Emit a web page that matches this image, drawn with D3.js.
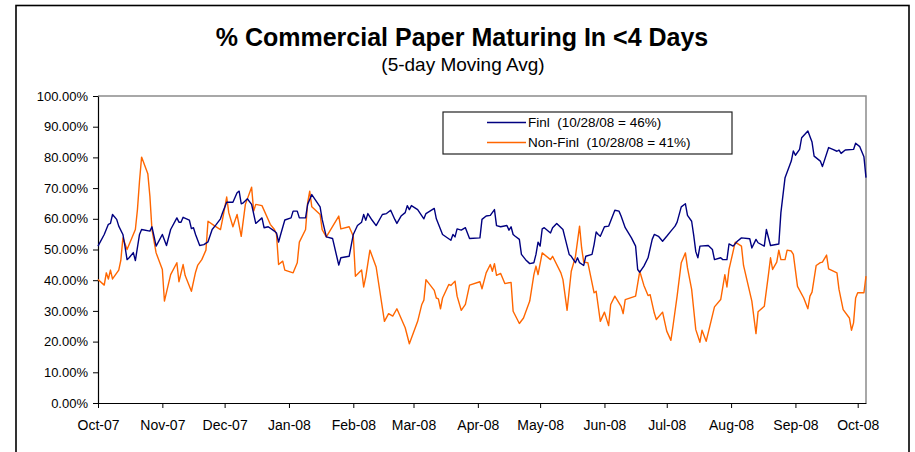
<!DOCTYPE html>
<html>
<head>
<meta charset="utf-8">
<script src="https://cdn.jsdelivr.net/npm/d3@7"></script>
<style>
  body { margin: 0; background: #fff; }
  text { font-family: "Liberation Sans", Arial, sans-serif; fill: #000; }
</style>
</head>
<body>
<div id="chart"></div>
<script>
// Month tick labels on the date axis
const monthLabels = ['Oct-07', 'Nov-07', 'Dec-07', 'Jan-08', 'Feb-08', 'Mar-08', 'Apr-08',
  'May-08', 'Jun-08', 'Jul-08', 'Aug-08', 'Sep-08', 'Oct-08'];

const seriesNames = ['Finl  (10/28/08 = 46%)', 'Non-Finl  (10/28/08 = 41%)'];

// Finl: % of CP maturing in <4 days, 5-day moving avg
const finlDates = ['10/01/07', '10/04/07', '10/06/07', '10/07/07', '10/08/07', '10/10/07', '10/11/07',
  '10/13/07', '10/14/07', '10/15/07', '10/16/07', '10/18/07', '10/19/07', '10/21/07', '10/22/07',
  '10/26/07', '10/27/07', '10/28/07', '10/29/07', '11/01/07', '11/03/07', '11/05/07', '11/08/07',
  '11/09/07', '11/10/07', '11/11/07', '11/14/07', '11/15/07', '11/16/07', '11/17/07', '11/19/07',
  '11/21/07', '11/23/07', '11/25/07', '11/27/07', '11/29/07', '11/30/07', '12/02/07', '12/05/07',
  '12/07/07', '12/08/07', '12/09/07', '12/10/07', '12/12/07', '12/14/07', '12/16/07', '12/19/07',
  '12/20/07', '12/22/07', '12/25/07', '12/26/07', '12/27/07', '12/28/07', '12/30/07', '01/02/08',
  '01/03/08', '01/05/08', '01/06/08', '01/09/08', '01/10/08', '01/12/08', '01/16/08', '01/17/08',
  '01/19/08', '01/22/08', '01/24/08', '01/25/08', '01/26/08', '01/30/08', '02/01/08', '02/03/08',
  '02/05/08', '02/06/08', '02/07/08', '02/08/08', '02/10/08', '02/12/08', '02/15/08', '02/17/08',
  '02/19/08', '02/21/08', '02/22/08', '02/24/08', '02/26/08', '02/27/08', '02/28/08', '02/29/08',
  '03/03/08', '03/06/08', '03/07/08', '03/11/08', '03/12/08', '03/15/08', '03/19/08', '03/20/08',
  '03/21/08', '03/22/08', '03/24/08', '03/26/08', '03/28/08', '04/02/08', '04/03/08', '04/05/08',
  '04/07/08', '04/09/08', '04/10/08', '04/12/08', '04/15/08', '04/16/08', '04/17/08', '04/18/08',
  '04/19/08', '04/21/08', '04/22/08', '04/24/08', '04/26/08', '04/28/08', '04/29/08', '04/30/08',
  '05/01/08', '05/02/08', '05/03/08', '05/06/08', '05/07/08', '05/09/08', '05/12/08', '05/13/08',
  '05/15/08', '05/16/08', '05/18/08', '05/19/08', '05/20/08', '05/22/08', '05/23/08', '05/26/08',
  '05/27/08', '05/28/08', '05/29/08', '05/30/08', '06/01/08', '06/03/08', '06/06/08', '06/08/08',
  '06/09/08', '06/11/08', '06/14/08', '06/16/08', '06/17/08', '06/18/08', '06/20/08', '06/22/08',
  '06/24/08', '06/25/08', '06/27/08', '06/29/08', '07/01/08', '07/03/08', '07/05/08', '07/06/08',
  '07/08/08', '07/10/08', '07/11/08', '07/13/08', '07/14/08', '07/15/08', '07/16/08', '07/17/08',
  '07/21/08', '07/23/08', '07/24/08', '07/27/08', '07/28/08', '07/30/08', '07/31/08', '08/02/08',
  '08/04/08', '08/06/08', '08/10/08', '08/11/08', '08/13/08', '08/14/08', '08/17/08', '08/18/08',
  '08/20/08', '08/24/08', '08/25/08', '08/27/08', '08/30/08', '08/31/08', '09/01/08', '09/03/08',
  '09/04/08', '09/07/08', '09/09/08', '09/10/08', '09/13/08', '09/14/08', '09/17/08', '09/19/08',
  '09/21/08', '09/22/08', '09/23/08', '09/25/08', '09/29/08', '09/30/08', '10/02/08', '10/04/08',
  '10/05/08'];
const finlValues = [51.1, 54.9, 58.2, 58.5, 61.4, 59.8, 57.6,
  54.9, 51.0, 46.7, 47.3, 49.0, 46.4, 54.9, 56.5,
  56.0, 57.4, 54.3, 51.1, 54.9, 51.3, 56.5, 60.3,
  58.9, 58.9, 60.5, 59.6, 56.8, 57.1, 54.9, 51.3,
  51.6, 52.5, 56.5, 58.2, 60.0, 62.0, 65.4, 65.4,
  68.5, 69.0, 64.9, 65.2, 66.5, 64.7, 58.5, 60.3,
  57.1, 57.4, 56.0, 55.4, 52.4, 54.9, 59.6, 60.3,
  62.5, 62.5, 60.3, 60.3, 64.7, 67.9, 63.9, 59.8,
  54.1, 53.6, 47.8, 44.9, 47.3, 47.8, 54.9, 57.8,
  58.9, 61.4, 59.5, 61.7, 59.6, 57.8, 61.4, 61.7,
  62.8, 59.8, 58.5, 60.9, 62.0, 64.3, 63.0, 64.3,
  63.0, 60.0, 61.7, 63.4, 60.0, 54.9, 53.0, 54.9,
  54.1, 56.7, 56.3, 57.1, 53.6, 53.8, 59.8, 60.9,
  61.1, 63.0, 57.8, 57.4, 57.8, 56.3, 57.4, 54.9,
  54.3, 53.3, 48.4, 46.7, 45.4, 45.7, 48.4, 52.4,
  51.1, 56.7, 57.1, 55.4, 57.1, 58.5, 56.5, 53.8,
  48.4, 47.8, 45.7, 47.3, 45.7, 44.8, 47.8, 48.4,
  51.6, 55.7, 54.9, 54.3, 57.4, 57.6, 62.8, 62.5,
  60.9, 57.1, 53.8, 51.1, 43.5, 42.6, 44.6, 47.3,
  53.3, 54.9, 54.3, 52.7, 54.3, 56.0, 57.6, 58.9,
  63.9, 64.9, 61.1, 59.2, 54.6, 49.3, 47.3, 51.1,
  51.3, 50.0, 46.7, 47.3, 46.7, 46.7, 51.8, 51.1,
  52.7, 53.8, 53.5, 50.5, 53.3, 52.2, 51.1, 56.5,
  51.3, 51.8, 62.0, 73.4, 78.8, 82.1, 80.7, 82.6,
  86.4, 88.6, 85.0, 80.4, 78.8, 77.0, 83.2, 82.6,
  82.0, 82.4, 81.3, 82.4, 82.6, 84.6, 83.5, 80.2,
  73.4];

// Non-Finl: % of CP maturing in <4 days, 5-day moving avg
const nonFinlDates = ['10/01/07', '10/04/07', '10/05/07', '10/06/07', '10/07/07', '10/08/07', '10/11/07',
  '10/12/07', '10/13/07', '10/15/07', '10/19/07', '10/20/07', '10/21/07', '10/22/07', '10/25/07',
  '10/26/07', '10/27/07', '10/29/07', '11/01/07', '11/02/07', '11/05/07', '11/08/07', '11/09/07',
  '11/11/07', '11/12/07', '11/15/07', '11/17/07', '11/18/07', '11/20/07', '11/22/07', '11/23/07',
  '11/26/07', '11/29/07', '11/30/07', '12/02/07', '12/03/07', '12/05/07', '12/07/07', '12/09/07',
  '12/11/07', '12/14/07', '12/15/07', '12/16/07', '12/19/07', '12/23/07', '12/25/07', '12/26/07',
  '12/27/07', '12/29/07', '12/30/07', '01/03/08', '01/05/08', '01/06/08', '01/09/08', '01/10/08',
  '01/11/08', '01/12/08', '01/16/08', '01/17/08', '01/19/08', '01/25/08', '01/26/08', '01/30/08',
  '02/01/08', '02/02/08', '02/05/08', '02/06/08', '02/07/08', '02/09/08', '02/12/08', '02/16/08',
  '02/18/08', '02/20/08', '02/22/08', '02/26/08', '02/28/08', '03/03/08', '03/05/08', '03/06/08',
  '03/07/08', '03/11/08', '03/12/08', '03/13/08', '03/14/08', '03/15/08', '03/18/08', '03/19/08',
  '03/21/08', '03/22/08', '03/24/08', '03/26/08', '03/28/08', '04/02/08', '04/03/08', '04/05/08',
  '04/07/08', '04/08/08', '04/09/08', '04/10/08', '04/12/08', '04/14/08', '04/17/08', '04/18/08',
  '04/21/08', '04/23/08', '04/26/08', '04/28/08', '04/29/08', '04/30/08', '05/02/08', '05/06/08',
  '05/07/08', '05/11/08', '05/12/08', '05/14/08', '05/16/08', '05/18/08', '05/20/08', '05/21/08',
  '05/22/08', '05/24/08', '05/27/08', '05/28/08', '05/30/08', '06/01/08', '06/03/08', '06/04/08',
  '06/06/08', '06/09/08', '06/10/08', '06/11/08', '06/16/08', '06/18/08', '06/20/08', '06/22/08',
  '06/23/08', '06/25/08', '06/26/08', '06/29/08', '07/01/08', '07/03/08', '07/04/08', '07/06/08',
  '07/08/08', '07/10/08', '07/11/08', '07/13/08', '07/15/08', '07/17/08', '07/18/08', '07/20/08',
  '07/24/08', '07/27/08', '07/29/08', '07/30/08', '07/31/08', '08/03/08', '08/06/08', '08/07/08',
  '08/11/08', '08/13/08', '08/14/08', '08/17/08', '08/19/08', '08/20/08', '08/21/08', '08/23/08',
  '08/24/08', '08/25/08', '08/27/08', '08/28/08', '08/30/08', '08/31/08', '09/02/08', '09/05/08',
  '09/07/08', '09/08/08', '09/09/08', '09/11/08', '09/13/08', '09/14/08', '09/16/08', '09/17/08',
  '09/21/08', '09/22/08', '09/24/08', '09/27/08', '09/28/08', '09/29/08', '09/30/08', '10/01/08',
  '10/04/08', '10/05/08'];
const nonFinlValues = [40.2, 38.4, 42.4, 40.4, 43.3, 40.4, 43.3,
  46.5, 53.8, 50.0, 56.5, 63.0, 72.3, 80.1, 74.7,
  67.4, 56.5, 48.9, 43.5, 33.2, 41.8, 45.7, 39.5,
  45.1, 41.5, 36.4, 42.6, 44.8, 46.7, 49.8, 59.2,
  57.8, 56.5, 59.8, 67.1, 62.0, 57.4, 61.4, 54.3,
  64.7, 70.3, 62.5, 64.7, 64.3, 58.2, 56.5, 54.9,
  45.1, 46.2, 43.3, 42.4, 45.7, 52.4, 56.5, 65.2,
  69.0, 63.9, 61.4, 56.5, 54.1, 60.9, 56.7, 57.4,
  54.3, 41.3, 43.3, 37.8, 41.1, 49.8, 44.3, 26.6,
  29.1, 28.3, 30.7, 24.5, 19.3, 26.6, 32.1, 33.5,
  40.2, 36.7, 34.2, 33.9, 30.7, 34.2, 38.6, 38.3,
  39.7, 34.8, 30.2, 32.1, 38.4, 39.5, 37.2, 42.4,
  45.1, 42.9, 45.4, 41.6, 42.2, 38.9, 39.3, 29.9,
  25.9, 27.7, 33.2, 41.8, 44.6, 41.8, 48.9, 46.7,
  47.8, 42.4, 40.2, 30.2, 42.9, 47.6, 57.6, 50.5,
  45.9, 45.7, 35.9, 36.4, 26.6, 29.6, 25.2, 32.1,
  34.8, 31.5, 29.1, 33.7, 34.8, 42.9, 38.3, 35.0,
  35.3, 29.3, 27.2, 29.6, 23.4, 20.4, 25.0, 34.8,
  45.7, 48.9, 44.0, 37.0, 23.9, 19.8, 23.7, 20.1,
  31.3, 33.7, 41.8, 37.8, 43.5, 52.4, 51.1, 44.8,
  33.2, 22.6, 29.7, 31.5, 41.8, 47.3, 43.5, 45.9,
  49.8, 46.7, 46.7, 49.8, 49.5, 48.4, 38.0, 34.2,
  30.7, 34.8, 36.1, 44.8, 45.7, 45.9, 48.2, 43.7,
  42.4, 37.0, 30.4, 27.7, 23.7, 26.1, 34.2, 35.9,
  35.9, 41.3];

class MaturityChart {
  constructor() {
    this.width = 915;
    this.height = 452;
    this.margin = { left: 98, right: 866, top: 96, bottom: 403 };
    this.parseDate = d3.timeParse('%m/%d/%y');
    this.colors = ['#000080', '#ff6600'];
    this.svg = null;
  }

  // Zip dates and values into point objects
  buildSeries() {
    const zip = (dates, values) => dates.map((d, i) => ({ date: this.parseDate(d), value: values[i] }));
    this.series = [zip(finlDates, finlValues), zip(nonFinlDates, nonFinlValues)];
  }

  createSVG() {
    this.svg = d3.select('#chart')
      .append('svg')
      .attr('width', this.width)
      .attr('height', this.height);

    // outer chart frame
    this.svg.append('rect')
      .attr('x', 16)
      .attr('y', 5.5)
      .attr('width', 893)
      .attr('height', 470)
      .attr('fill', 'none')
      .attr('stroke', '#000')
      .attr('stroke-width', 1.6);

    this.svg.append('text')
      .attr('x', 462)
      .attr('y', 46)
      .attr('text-anchor', 'middle')
      .attr('font-size', '25px')
      .attr('font-weight', 'bold')
      .text('% Commercial Paper Maturing In <4 Days');

    this.svg.append('text')
      .attr('x', 463)
      .attr('y', 71)
      .attr('text-anchor', 'middle')
      .attr('font-size', '19px')
      .text('(5-day Moving Avg)');
  }

  createScales() {
    this.x = d3.scaleTime()
      .domain([this.parseDate('10/01/07'), this.parseDate('10/05/08')])
      .range([this.margin.left, this.margin.right]);

    this.y = d3.scaleLinear()
      .domain([0, 100])
      .range([this.margin.bottom, this.margin.top]);
  }

  drawAxes() {
    const m = this.margin;

    // plot area border (grey top/right)
    this.svg.append('path')
      .attr('d', `M${m.left},${m.top}H${m.right}V${m.bottom}`)
      .attr('fill', 'none')
      .attr('stroke', '#8c8c8c')
      .attr('stroke-width', 1.5);

    const yAxis = this.svg.append('g')
      .attr('transform', `translate(${m.left},0)`)
      .call(d3.axisLeft(this.y)
        .tickValues(d3.range(0, 101, 10))
        .tickFormat(d => d.toFixed(2) + '%')
        .tickSize(5)
        .tickSizeOuter(0)
        .tickPadding(5));

    const tickDates = d3.timeMonth.range(this.parseDate('10/01/07'), this.parseDate('10/02/08'));
    const xAxis = this.svg.append('g')
      .attr('transform', `translate(0,${m.bottom})`)
      .call(d3.axisBottom(this.x)
        .tickValues(tickDates)
        .tickFormat((d, i) => monthLabels[i])
        .tickSize(5)
        .tickSizeOuter(0)
        .tickPadding(12));

    [yAxis, xAxis].forEach(axis => {
      axis.select('.domain').attr('stroke', '#000').attr('stroke-width', 1.2);
      axis.selectAll('.tick line').attr('stroke', '#000');
      axis.selectAll('text')
        .attr('font-family', '"Liberation Sans", Arial, sans-serif')
        .attr('fill', '#000');
    });
    yAxis.selectAll('text').attr('font-size', '13px');
    xAxis.selectAll('text').attr('font-size', '14px');
  }

  drawLines() {
    const line = d3.line()
      .x(d => this.x(d.date))
      .y(d => this.y(d.value));

    // Non-Finl drawn first so Finl sits on top
    [1, 0].forEach(i => {
      this.svg.append('path')
        .datum(this.series[i])
        .attr('fill', 'none')
        .attr('stroke', this.colors[i])
        .attr('stroke-width', 1.4)
        .attr('stroke-linejoin', 'round')
        .attr('d', line);
    });
  }

  drawLegend() {
    const legend = this.svg.append('g')
      .attr('transform', 'translate(443,112)');

    legend.append('rect')
      .attr('width', 289)
      .attr('height', 42)
      .attr('fill', '#fff')
      .attr('stroke', '#222')
      .attr('stroke-width', 1.2);

    const items = legend.selectAll('.legend-item')
      .data(seriesNames)
      .enter()
      .append('g')
      .attr('class', 'legend-item')
      .attr('transform', (d, i) => `translate(0, ${10.5 + i * 20})`);

    items.append('line')
      .attr('x1', 44)
      .attr('x2', 83)
      .attr('stroke', (d, i) => this.colors[i])
      .attr('stroke-width', 1.4);

    items.append('text')
      .attr('x', 85)
      .attr('y', 4.8)
      .attr('font-size', '13.5px')
      .style('white-space', 'pre')
      .text(d => d);
  }

  render() {
    this.buildSeries();
    this.createSVG();
    this.createScales();
    this.drawAxes();
    this.drawLines();
    this.drawLegend();
  }
}

const chart = new MaturityChart();
chart.render();
</script>
</body>
</html>
